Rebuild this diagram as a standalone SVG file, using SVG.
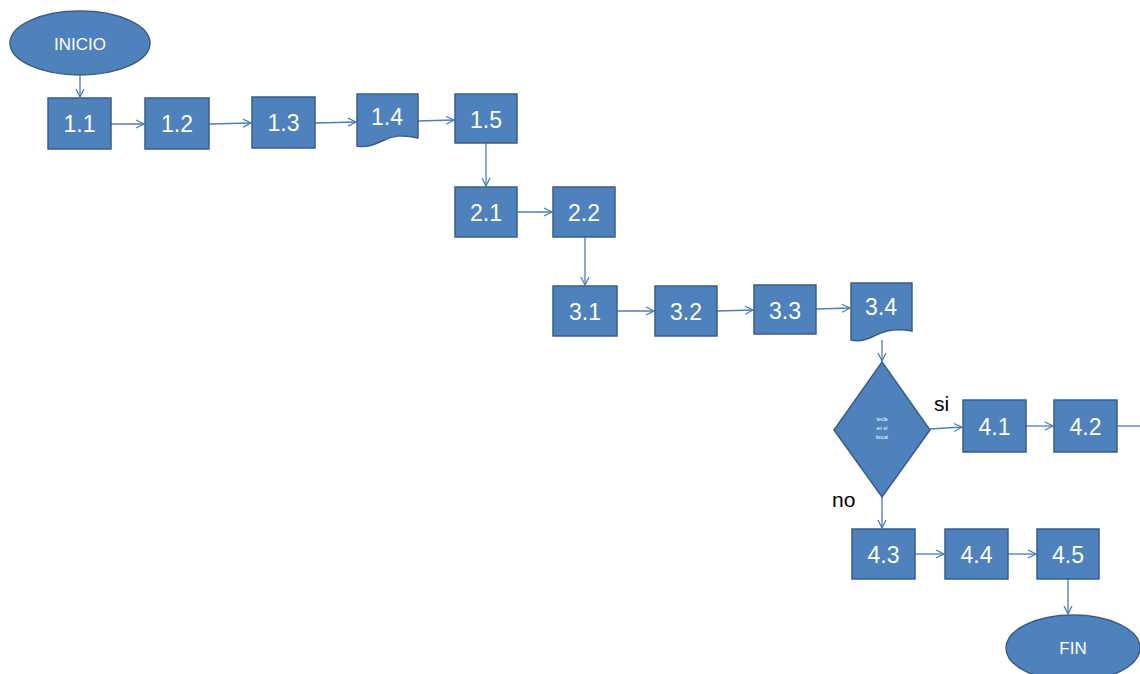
<svg xmlns="http://www.w3.org/2000/svg" width="1140" height="674" viewBox="0 0 1140 674">
  <style>
    .box{fill:#4f81bd;stroke:#385d8a;stroke-width:1.5}
    .lbl{fill:#fff;font-family:"Liberation Sans",Arial,sans-serif;font-size:23px;text-anchor:middle;dominant-baseline:central}
    .term{fill:#fff;font-family:"Liberation Sans",Arial,sans-serif;font-size:17px;text-anchor:middle;dominant-baseline:central}
    .edge{fill:none;stroke:#4a7ebb;stroke-width:1.3;marker-end:url(#arr)}
    .note{fill:#000;font-family:"Liberation Sans",Arial,sans-serif;font-size:21px}
  </style>
  <defs>
    <marker id="arr" viewBox="0 0 10 10" refX="9" refY="5" markerWidth="10" markerHeight="10" markerUnits="userSpaceOnUse" orient="auto">
      <path d="M1,1 L9,5 L1,9" fill="none" stroke="#4a7ebb" stroke-width="1.3"/>
    </marker>
  </defs>
  <rect width="1140" height="674" fill="#fff"/>

  <!-- connectors -->
  <g id="connectors">
    <line class="edge" x1="80" y1="75" x2="80" y2="97"/>
    <line class="edge" x1="111" y1="124" x2="144" y2="124"/>
    <line class="edge" x1="209" y1="124" x2="251" y2="123"/>
    <line class="edge" x1="315" y1="123" x2="356" y2="122"/>
    <line class="edge" x1="418" y1="121" x2="454" y2="120"/>
    <line class="edge" x1="486" y1="143" x2="486" y2="186"/>
    <line class="edge" x1="517" y1="212" x2="552" y2="212"/>
    <line class="edge" x1="585" y1="237" x2="585" y2="285"/>
    <line class="edge" x1="617" y1="311" x2="654" y2="311"/>
    <line class="edge" x1="717" y1="311" x2="753" y2="310"/>
    <line class="edge" x1="816" y1="309" x2="850" y2="308"/>
    <line class="edge" x1="882" y1="340" x2="882" y2="361"/>
    <line class="edge" x1="930" y1="429" x2="962" y2="427"/>
    <line class="edge" x1="1026" y1="426" x2="1053" y2="426"/>
    <line x1="1117" y1="426" x2="1140" y2="426" stroke="#4a7ebb" stroke-width="1.3"/>
    <line class="edge" x1="882" y1="497" x2="882" y2="528"/>
    <line class="edge" x1="915" y1="554" x2="944" y2="554"/>
    <line class="edge" x1="1008" y1="554" x2="1036" y2="554"/>
    <line class="edge" x1="1068" y1="579" x2="1068" y2="614"/>
  </g>

  <g id="inicio"><ellipse class="box" cx="80" cy="43" rx="70" ry="32"/><text class="term" x="80" y="44">INICIO</text></g>
  <g id="n1_1"><rect class="box" x="48" y="98" width="63" height="51"/><text class="lbl" x="79.5" y="124">1.1</text></g>
  <g id="n1_2"><rect class="box" x="145" y="98" width="64" height="51"/><text class="lbl" x="177" y="124">1.2</text></g>
  <g id="n1_3"><rect class="box" x="252" y="97" width="63" height="51"/><text class="lbl" x="283.5" y="123">1.3</text></g>
  <g id="n1_4"><path class="box" d="M357,94 H418 V138 C402,134 392,136 382,141 C372,146 365,148 357,146 Z"/><text class="lbl" x="387" y="117">1.4</text></g>
  <g id="n1_5"><rect class="box" x="455" y="94" width="62" height="49"/><text class="lbl" x="486" y="120">1.5</text></g>
  <g id="n2_1"><rect class="box" x="455" y="187" width="62" height="50"/><text class="lbl" x="486" y="213">2.1</text></g>
  <g id="n2_2"><rect class="box" x="553" y="187" width="62" height="50"/><text class="lbl" x="584" y="213">2.2</text></g>
  <g id="n3_1"><rect class="box" x="553" y="286" width="64" height="50"/><text class="lbl" x="585" y="312">3.1</text></g>
  <g id="n3_2"><rect class="box" x="655" y="286" width="62" height="50"/><text class="lbl" x="686" y="312">3.2</text></g>
  <g id="n3_3"><rect class="box" x="754" y="285" width="62" height="49"/><text class="lbl" x="785" y="311">3.3</text></g>
  <g id="n3_4"><path class="box" d="M851,283 H912 V331 C896,328 886,330 876,335 C867,340 859,342 851,340 Z"/><text class="lbl" x="881" y="307">3.4</text></g>
  <g id="decision"><path class="box" d="M882,362 L930,430 L882,497 L834,430 Z"/>
    <text fill="#fff" font-family="'Liberation Sans',Arial,sans-serif" font-size="5" text-anchor="middle"><tspan x="882" y="421">tecla</tspan><tspan x="882" y="430">en el</tspan><tspan x="882" y="439">bucal</tspan></text></g>
  <g id="n4_1"><rect class="box" x="963" y="400" width="63" height="52"/><text class="lbl" x="994.5" y="427">4.1</text></g>
  <g id="n4_2"><rect class="box" x="1054" y="400" width="63" height="52"/><text class="lbl" x="1085.5" y="427">4.2</text></g>
  <g id="n4_3"><rect class="box" x="852" y="529" width="63" height="50"/><text class="lbl" x="883.5" y="555">4.3</text></g>
  <g id="n4_4"><rect class="box" x="945" y="529" width="63" height="50"/><text class="lbl" x="976.5" y="555">4.4</text></g>
  <g id="n4_5"><rect class="box" x="1037" y="529" width="62" height="50"/><text class="lbl" x="1068" y="555">4.5</text></g>
  <g id="fin"><ellipse class="box" cx="1073" cy="648" rx="67" ry="33"/><text class="term" x="1073" y="648">FIN</text></g>

  <text class="note" x="934" y="411">si</text>
  <text class="note" x="832" y="507">no</text>
</svg>
